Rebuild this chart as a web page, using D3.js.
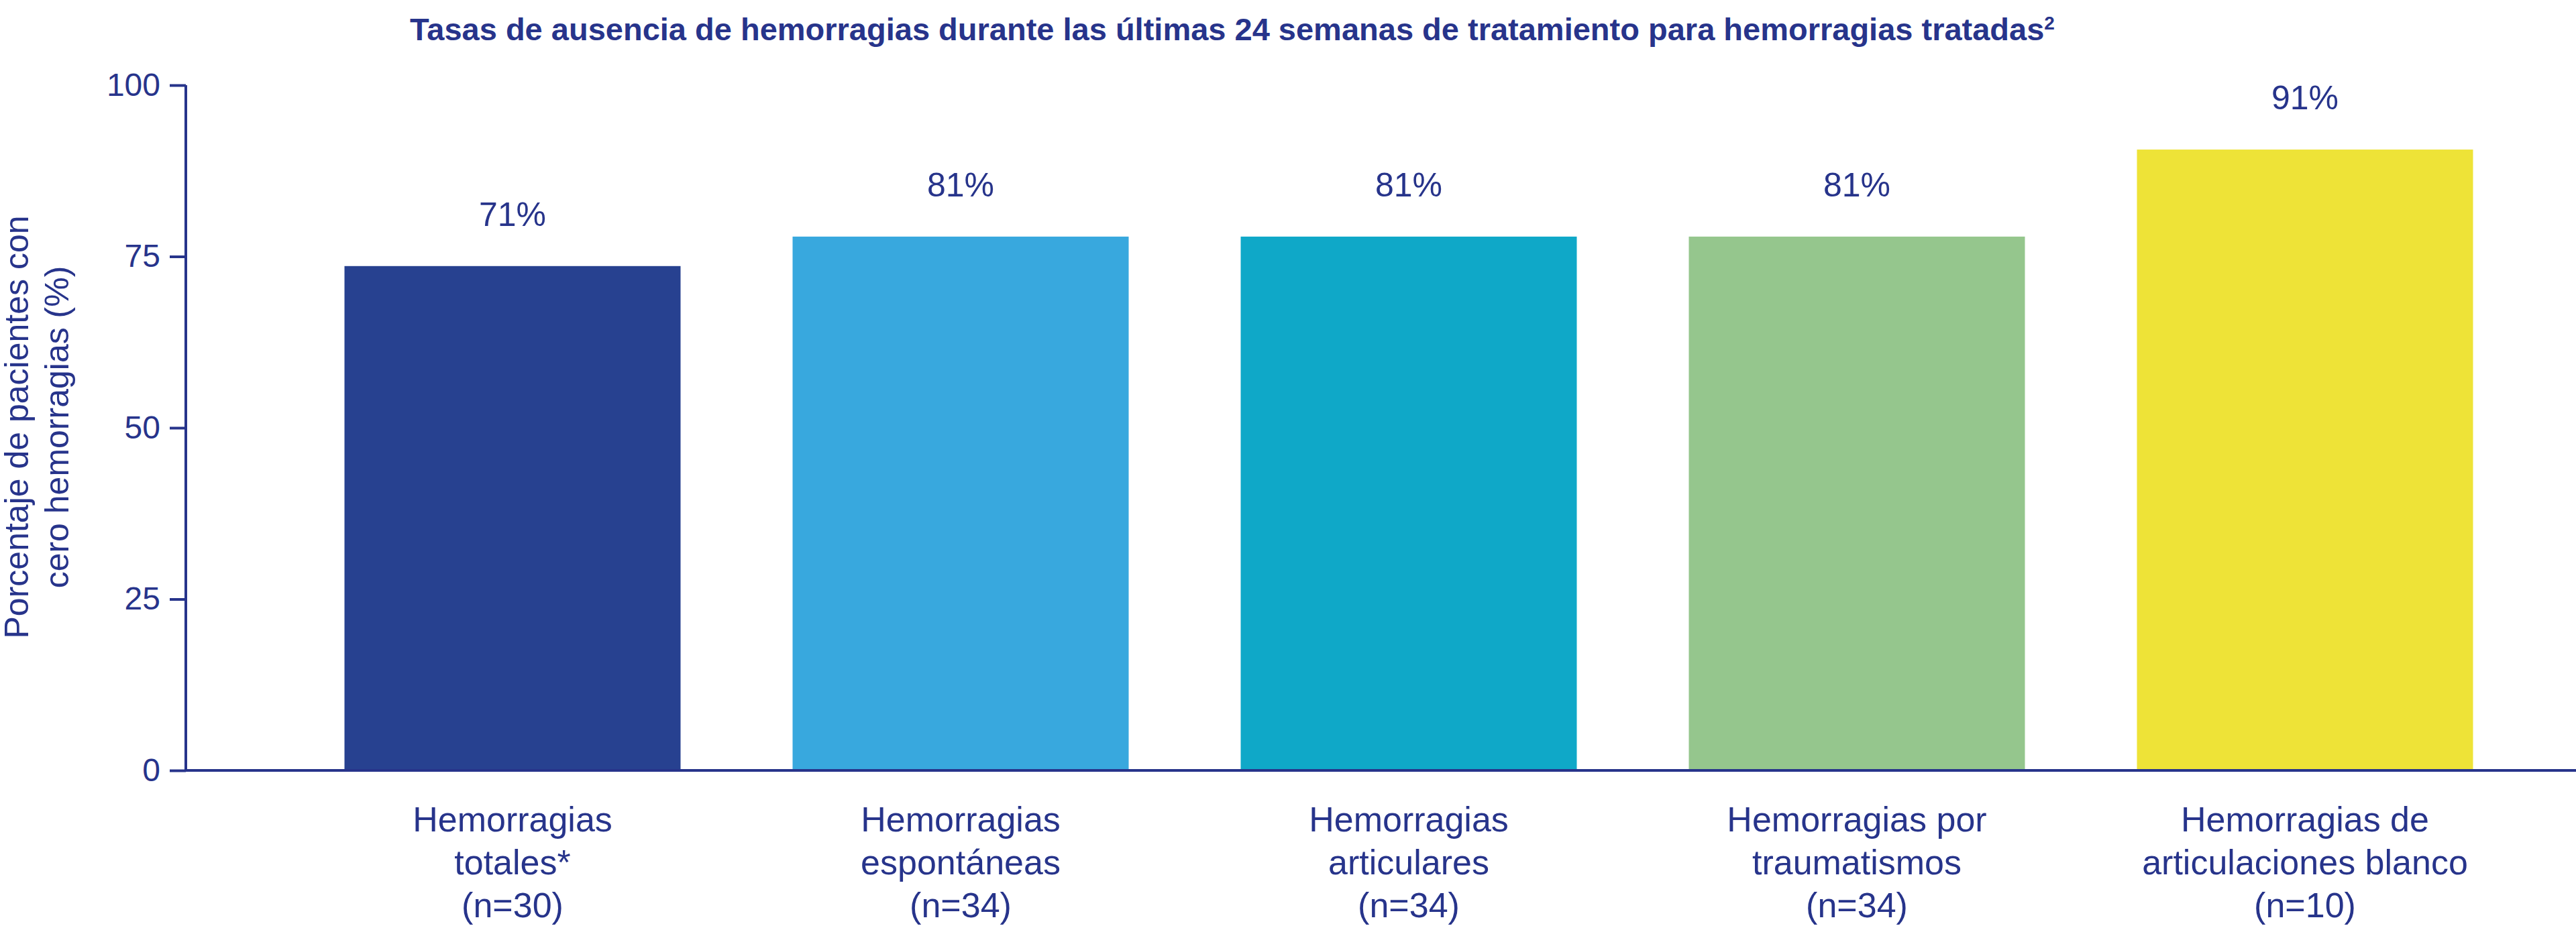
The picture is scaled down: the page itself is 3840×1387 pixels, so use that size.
<!DOCTYPE html>
<html><head><meta charset="utf-8">
<script src="https://cdn.jsdelivr.net/npm/d3@7"></script>
<style>body{margin:0;background:#fff}</style></head>
<body><svg id="c" width="3840" height="1387"></svg>
<script>
const categories = [["Hemorragias","totales*","(n=30)"],["Hemorragias","espontáneas","(n=34)"],["Hemorragias","articulares","(n=34)"],["Hemorragias por","traumatismos","(n=34)"],["Hemorragias de","articulaciones blanco","(n=10)"]];
const barValues = [73.6, 77.9, 77.9, 77.9, 90.6];
const valueLabels = ["71%","81%","81%","81%","91%"];
const colors = ["#274190","#38a8de","#0fa8c8","#95c68d","#eee337"];
const yTicks = [0,25,50,75,100];
const txt = "#27348b", font = "Liberation Sans, Arial, sans-serif";
const svg = d3.select("#c").style("font-family", font);
const x = d3.scaleBand().domain(d3.range(5)).range([430, 3770]).paddingInner(0.25).paddingOuter(0.125);
const y = d3.scaleLinear().domain([0,100]).range([1149,127]);
svg.append("text").attr("x",1837).attr("y",60).attr("text-anchor","middle").attr("font-size",47).attr("font-weight","bold").attr("fill",txt)
  .text("Tasas de ausencia de hemorragias durante las últimas 24 semanas de tratamiento para hemorragias tratadas")
  .append("tspan").attr("dy",-16).attr("font-size",28).text("2");
svg.selectAll("rect.b").data(barValues).join("rect").attr("x",(d,i)=>x(i)).attr("width",x.bandwidth())
  .attr("y",d=>y(d)).attr("height",d=>y(0)-y(d)).attr("fill",(d,i)=>colors[i]);
svg.selectAll("text.v").data(valueLabels).join("text").attr("x",(d,i)=>x(i)+x.bandwidth()/2).attr("y",(d,i)=>y(barValues[i])-60)
  .attr("text-anchor","middle").attr("font-size",50).attr("fill",txt).text(d=>d);
const ya = svg.append("g").attr("transform","translate(277,0)").call(d3.axisLeft(y).tickValues(yTicks).tickSize(24).tickPadding(14));
ya.selectAll("text").attr("font-size",48).attr("fill",txt).attr("font-family",font);
ya.selectAll("line,path").attr("stroke",txt).attr("stroke-width",4);
ya.select(".domain").attr("d","M0,127V1149");
svg.append("line").attr("x1",277).attr("x2",3840).attr("y1",1149).attr("y2",1149).attr("stroke",txt).attr("stroke-width",4);
categories.forEach((c,i)=>{
  const t = svg.append("text").attr("x",x(i)+x.bandwidth()/2).attr("text-anchor","middle").attr("font-size",52).attr("fill",txt);
  c.forEach((l,j)=>t.append("tspan").attr("x",x(i)+x.bandwidth()/2).attr("y",1240+j*64).text(l));
});
const yl = svg.append("text").attr("transform","translate(42,637) rotate(-90)").attr("text-anchor","middle").attr("font-size",50).attr("fill",txt);
yl.append("tspan").attr("x",0).attr("y",0).text("Porcentaje de pacientes con");
yl.append("tspan").attr("x",0).attr("y",60).text("cero hemorragias (%)");
</script></body></html>
